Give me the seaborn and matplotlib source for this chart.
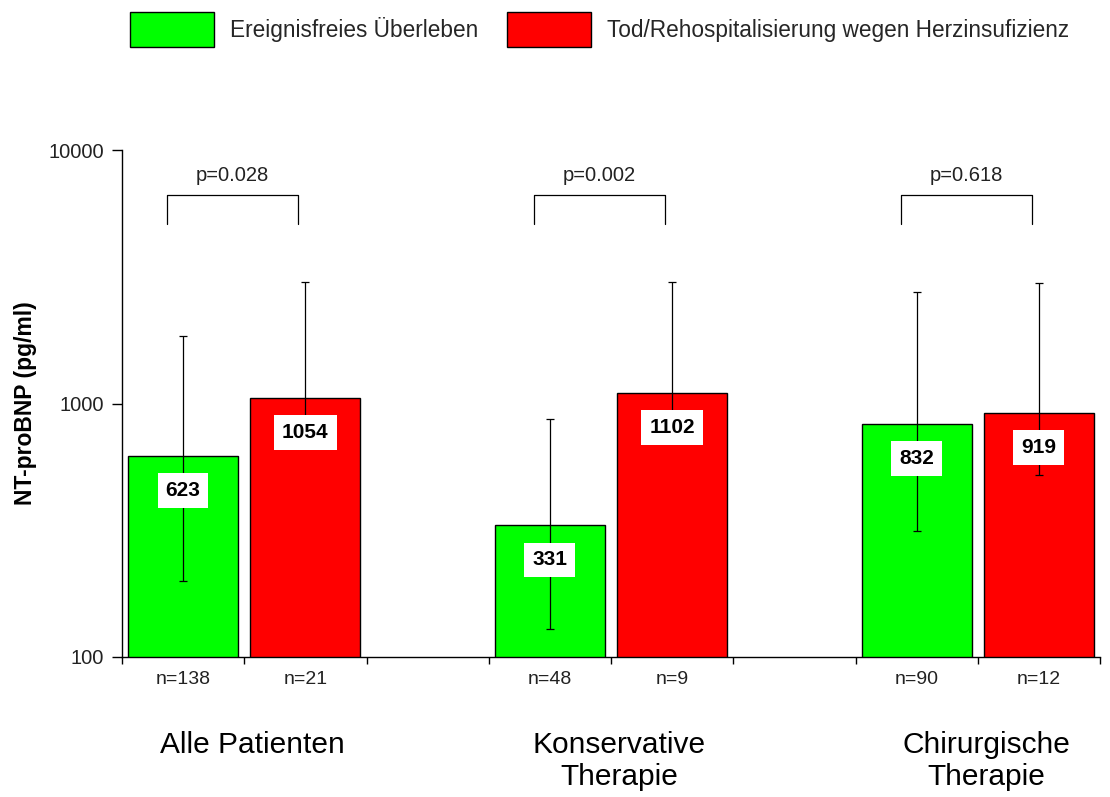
import numpy as np
import pandas as pd
import matplotlib
matplotlib.use("Agg")
import matplotlib.pyplot as plt
import matplotlib.transforms as mtransforms
from matplotlib.patches import Patch
from matplotlib.ticker import FixedLocator, FuncFormatter, NullLocator
import seaborn as sns

# --- Daten ---
groups = ["Alle Patienten", "Konservative\nTherapie", "Chirurgische\nTherapie"]
outcomes = ["Ereignisfreies Überleben", "Tod/Rehospitalisierung wegen Herzinsufizienz"]
colors = ["#00ff00", "#ff0000"]

median_free = [623, 331, 832]
median_event = [1054, 1102, 919]
upper_free = [1840, 869, 2750]
lower_free = [200, 129, 314]
upper_event = [3016, 3016, 2990]
lower_event = [686, 740, 522]
n_free = [138, 48, 90]
n_event = [21, 9, 12]
p_values = ["p=0.028", "p=0.002", "p=0.618"]

# 8 Slots: gruen, rot, Luecke, gruen, rot, Luecke, gruen, rot
slot_order = []
rows = []
for i in range(len(groups)):
    for j, (med, lo, hi, n) in enumerate([
        (median_free[i], lower_free[i], upper_free[i], n_free[i]),
        (median_event[i], lower_event[i], upper_event[i], n_event[i]),
    ]):
        slot = f"s{3 * i + j}"
        slot_order.append(slot)
        rows.append({"slot": slot, "pos": 3 * i + j, "value": med, "lo": lo,
                     "hi": hi, "n": n, "outcome": outcomes[j]})
    if i < len(groups) - 1:
        slot_order.append(f"s{3 * i + 2}")
df = pd.DataFrame(rows)

# --- Plot ---
sns.set_theme(style="white")
plt.rcParams["font.family"] = ["Liberation Sans", "DejaVu Sans"]
txt_col = "#222222"

fig = plt.figure(figsize=(11.10, 7.97), dpi=100)
ax = fig.add_axes([122 / 1110, 1 - 657 / 797, 978 / 1110, 507 / 797])

sns.barplot(data=df, x="slot", y="value", hue="outcome", order=slot_order,
            hue_order=outcomes, palette=colors, dodge=False, width=0.9,
            edgecolor="black", linewidth=1, errorbar=None, legend=False,
            saturation=1, ax=ax)
ax.set_yscale("log")
ax.set_ylim(100, 10000)
ax.set_xlim(-0.5, len(slot_order) - 0.5)

# Fehlerbalken (asymmetrisch)
ax.errorbar(df["pos"], df["value"],
            yerr=[df["value"] - df["lo"], df["hi"] - df["value"]],
            fmt="none", ecolor="black", elinewidth=0.9, capsize=3,
            capthick=0.9, zorder=4)

# Wertelabels
for _, r in df.iterrows():
    ax.annotate(f"{r['value']}", xy=(r["pos"], r["value"]),
                xytext=(0, -25), textcoords="offset points",
                ha="center", va="center", fontsize=15, fontweight="bold",
                color="black", zorder=6,
                bbox=dict(boxstyle="square,pad=0.38", fc="white", ec="none"))

# p-Wert-Klammern
for i, p in enumerate(p_values):
    x0, x1 = 3 * i - 0.13, 3 * i + 1 - 0.06
    ax.plot([x0, x0, x1, x1], [5100, 6640, 6640, 5100], color="black",
            lw=0.9, clip_on=False)
    ax.text((x0 + x1) / 2, 7960, p, ha="center", va="center",
            fontsize=14.5, color=txt_col)

# Achsen
sns.despine(ax=ax)
for side in ["left", "bottom"]:
    ax.spines[side].set_linewidth(1)
    ax.spines[side].set_color("black")

ax.yaxis.set_major_locator(FixedLocator([100, 1000, 10000]))
ax.yaxis.set_minor_locator(NullLocator())
ax.yaxis.set_major_formatter(FuncFormatter(lambda v, _: f"{v:.0f}"))
ax.tick_params(axis="y", which="major", direction="out", length=7, pad=6,
               width=1, color="black", labelsize=14.5, labelcolor=txt_col,
               left=True)

n_labels = {r["pos"]: f"n={r['n']}" for _, r in df.iterrows()}
ax.set_xticks(range(len(slot_order)))
ax.set_xticklabels([n_labels.get(k, "") for k in range(len(slot_order))])
ax.tick_params(axis="x", which="major", length=0, pad=10, labelsize=14,
               labelcolor=txt_col)
ax.set_xticks(np.arange(-0.5, len(slot_order), 1.0), minor=True)
ax.tick_params(axis="x", which="minor", direction="out", length=5, width=1,
               color="black", bottom=True)
ax.set_xlabel("")
ax.set_ylabel("NT-proBNP (pg/ml)", fontsize=16.5, fontweight="bold",
              color="black", labelpad=8)

# Gruppenbeschriftungen
trans = mtransforms.blended_transform_factory(ax.transData, ax.transAxes)
for i, g in enumerate(groups):
    ax.text(3 * i + 0.5 + 0.07, -0.145, g, transform=trans, ha="center",
            va="top", fontsize=21.5, color="black", linespacing=1.2)

# Legende
handles = [Patch(facecolor=c, edgecolor="black", linewidth=1) for c in colors]
fig.legend(handles, outcomes, loc="upper left",
           bbox_to_anchor=(130 / 1110, 1 - 12 / 797), ncol=2, frameon=False,
           fontsize=16.3, handlelength=3.7, handleheight=2.0,
           handletextpad=0.7, columnspacing=1.3, borderpad=0,
           borderaxespad=0)

fig.savefig("out.png", dpi=100)
